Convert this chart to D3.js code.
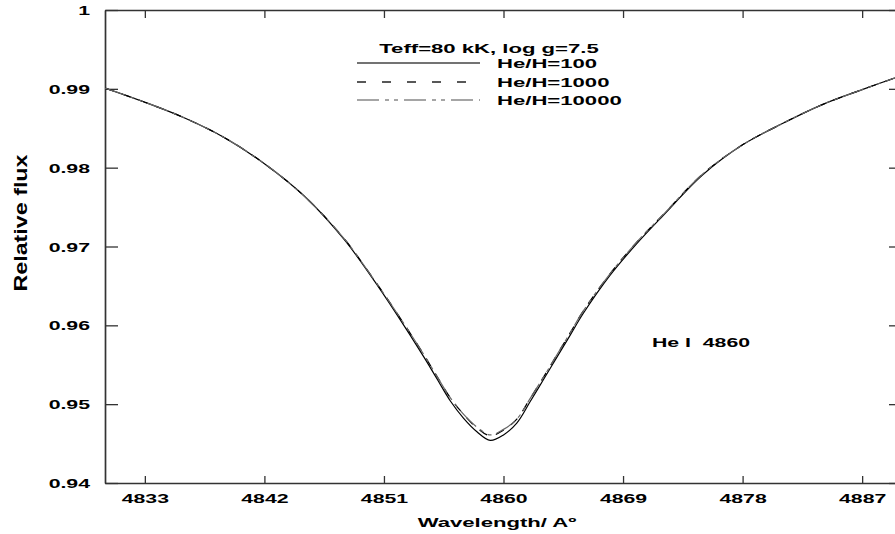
<!DOCTYPE html>
<html><head><meta charset="utf-8">
<script src="https://cdn.jsdelivr.net/npm/d3@7"></script>
<style>
html,body{margin:0;padding:0;background:#fff;}
svg{display:block;}
text{font-family:"Liberation Sans",Arial,sans-serif;font-weight:bold;fill:#000;}
</style></head><body>
<svg id="c" width="895" height="534"></svg>
<script>
// ---- data ----
const wavelength = [4830, 4833, 4836, 4839, 4842, 4845, 4848, 4850, 4852, 4854, 4855, 4856, 4857, 4858, 4859, 4860, 4861, 4862, 4863, 4864, 4865, 4866, 4868, 4870, 4872, 4875, 4878, 4881, 4884, 4887, 4890];
const fluxHeH100   = [0.9901, 0.9883, 0.9863, 0.9838, 0.9805, 0.9764, 0.9709, 0.9663, 0.9613, 0.9560, 0.9532, 0.9504, 0.9482, 0.9465, 0.9454, 0.9461, 0.9476, 0.9503, 0.9531, 0.9559, 0.9587, 0.9615, 0.9663, 0.9703, 0.9739, 0.9791, 0.9829, 0.9856, 0.9880, 0.9899, 0.9917];
const fluxHeH1000  = [0.9901, 0.9883, 0.9863, 0.9838, 0.9805, 0.9764, 0.9710, 0.9664, 0.9615, 0.9563, 0.9535, 0.9508, 0.9487, 0.9470, 0.9460, 0.9467, 0.9481, 0.9507, 0.9534, 0.9562, 0.9590, 0.9618, 0.9665, 0.9705, 0.9740, 0.9792, 0.9829, 0.9856, 0.9880, 0.9899, 0.9917];
const fluxHeH10000 = [0.9901, 0.9883, 0.9863, 0.9838, 0.9805, 0.9764, 0.9710, 0.9664, 0.9615, 0.9563, 0.9535, 0.9508, 0.9487, 0.9471, 0.9461, 0.9468, 0.9481, 0.9507, 0.9534, 0.9562, 0.9590, 0.9618, 0.9665, 0.9705, 0.9740, 0.9792, 0.9829, 0.9856, 0.9880, 0.9899, 0.9917];
const seriesNames = ["He/H=100", "He/H=1000", "He/H=10000"];
const xTicks = [4833, 4842, 4851, 4860, 4869, 4878, 4887];
const yTicks = [0.94, 0.95, 0.96, 0.97, 0.98, 0.99, 1];
const yTickLabels = ["0.94", "0.95", "0.96", "0.97", "0.98", "0.99", "1"];
const legendTitle = "Teff=80 kK, log g=7.5";
const lineLabel = "He I  4860";
const xTitle = "Wavelength/ A\u00ba";
const yTitle = "Relative flux";

// ---- layout ----
const svg = d3.select("#c");
const L = 105, T = 10, R = 902, B = 483;
const x = d3.scaleLinear().domain([4830, 4890]).range([L, R]);
const y = d3.scaleLinear().domain([0.94, 1]).range([B, T]);
const STRETCH = 1.7;
function stretch(sel, f) {
  sel.each(function () {
    const len = this.getComputedTextLength();
    d3.select(this).attr("textLength", len * f).attr("lengthAdjust", "spacingAndGlyphs");
  });
}

// axes
const axColor = "#333";
const gL = svg.append("g").attr("transform", `translate(${L},0)`)
  .call(d3.axisLeft(y).tickValues(yTicks).tickSizeInner(-13).tickSizeOuter(0).tickPadding(15)
    .tickFormat((d, i) => yTickLabels[i]));
const gB = svg.append("g").attr("transform", `translate(0,${B})`)
  .call(d3.axisBottom(x).tickValues(xTicks).tickSizeInner(-7).tickSizeOuter(0).tickPadding(11)
    .tickFormat(d3.format("d")));
const gT = svg.append("g").attr("transform", `translate(0,${T})`)
  .call(d3.axisTop(x).tickValues(xTicks).tickSizeInner(-8).tickSizeOuter(0).tickFormat(""));
const gR = svg.append("g").attr("transform", `translate(${R},0)`)
  .call(d3.axisRight(y).tickValues(yTicks).tickSizeInner(-13).tickSizeOuter(0).tickFormat(""));
[gL, gB, gT, gR].forEach(g => {
  g.select(".domain").attr("stroke", axColor).attr("stroke-width", 1.7);
  g.selectAll(".tick line").attr("stroke", axColor).attr("stroke-width", 1.3);
  g.selectAll(".tick text").attr("font-family", "Liberation Sans, Arial, sans-serif")
    .attr("font-weight", "bold").attr("font-size", 12.5).attr("fill", "#000");
});
gL.selectAll(".tick text").attr("dy", "0.36em");
stretch(gL.selectAll(".tick text"), STRETCH);
stretch(gB.selectAll(".tick text"), STRETCH);

// curves
const styles = [
  { data: fluxHeH100, color: "#000", dash: null, w: 1.2 },
  { data: fluxHeH1000, color: "#000", dash: "9,9", w: 1.2 },
  { data: fluxHeH10000, color: "#666", dash: "22,5,4,5,4,5", w: 1.2 }
];
const line = d3.line().x(d => x(d[0])).y(d => y(d[1])).curve(d3.curveCatmullRom.alpha(0.5));
svg.append("clipPath").attr("id", "clip").append("rect")
  .attr("x", L).attr("y", T).attr("width", R - L).attr("height", B - T);
const gC = svg.append("g").attr("clip-path", "url(#clip)");
styles.forEach(s => {
  gC.append("path").datum(wavelength.map((w, i) => [w, s.data[i]]))
    .attr("d", line).attr("fill", "none").attr("stroke", s.color)
    .attr("stroke-width", s.w).attr("stroke-dasharray", s.dash);
});

// legend
svg.append("text").attr("x", 489).attr("y", 53).attr("text-anchor", "middle")
  .attr("font-size", 13).text(legendTitle).call(stretch, STRETCH);
const legY = [63, 82, 100];
styles.forEach((s, i) => {
  svg.append("line").attr("x1", 357).attr("x2", 480).attr("y1", legY[i]).attr("y2", legY[i])
    .attr("stroke", i === 0 ? "#444" : (i === 1 ? "#222" : "#888")).attr("stroke-width", 1.3)
    .attr("stroke-dasharray", i === 1 ? "9,16" : (i === 2 ? "22,6,4,5,4,6" : null));
  svg.append("text").attr("x", 497).attr("y", legY[i] + 4.5).attr("font-size", 13)
    .text(seriesNames[i]).call(stretch, STRETCH);
});

// annotation
svg.append("text").attr("x", 652).attr("y", 347).attr("font-size", 12.5)
  .attr("xml:space", "preserve").text(lineLabel).call(stretch, STRETCH);

// axis titles
svg.append("text").attr("x", 497).attr("y", 527).attr("text-anchor", "middle")
  .attr("font-size", 13).text(xTitle).call(stretch, STRETCH);
const yt = svg.append("text").attr("transform", "translate(27,223) rotate(-90)").attr("text-anchor", "middle")
  .attr("font-size", 19).text(yTitle);
yt.attr("textLength", 137).attr("lengthAdjust", "spacingAndGlyphs");
</script>
</body></html>
